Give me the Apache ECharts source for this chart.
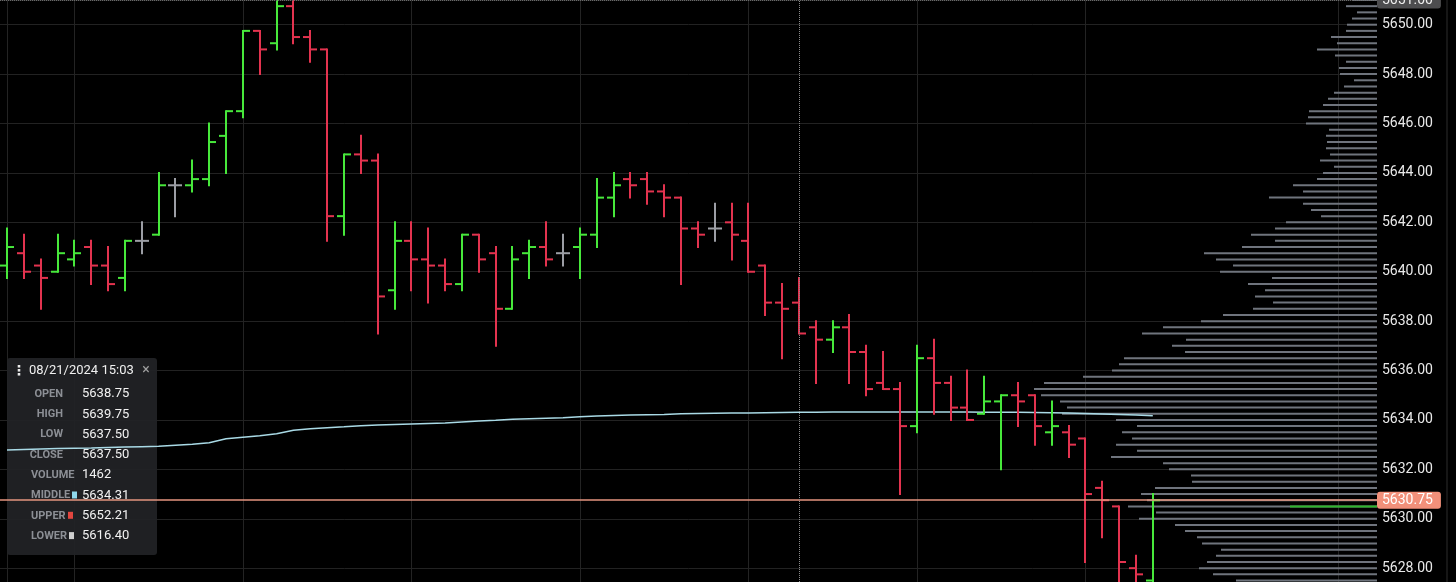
<!DOCTYPE html>
<html>
<head>
<meta charset="utf-8">
<title>OHLC 1m with volume profile</title>
<script src="https://cdn.jsdelivr.net/npm/echarts@6.0.0/dist/echarts.min.js"></script>
<style>
  html, body { margin: 0; padding: 0; background: #000; }
  #chart { width: 1456px; height: 582px; }
</style>
</head>
<body>
<div id="chart"></div>
<script>
// one-minute bars, 14:16 .. 15:24 (bar 47 = 15:03)
var opens = [
  5640.25, 5640.75, 5640.25, 5640.0, 5640.5, 5641.0, 5640.25, 5639.75, 5641.25, 5641.5,
  5643.5, 5643.5, 5643.75, 5645.5, 5646.5, 5649.75, 5649.25, 5650.75, 5649.5, 5649.0,
  5642.25, 5644.75, 5644.5, 5639.25, 5641.25, 5640.5, 5640.25, 5639.5, 5641.5, 5640.75,
  5638.5, 5640.75, 5641.0, 5640.75, 5641.0, 5641.5, 5643.0, 5643.75, 5643.75, 5643.25,
  5643.0, 5641.75, 5641.75, 5642.0, 5641.25, 5640.25, 5638.75, 5638.75, 5637.75, 5637.25,
  5637.75, 5636.75, 5635.5, 5635.25, 5633.75, 5636.5, 5635.5, 5634.5, 5634.25, 5634.75,
  5635.0, 5635.0, 5633.5, 5633.5, 5633.25, 5631.25, 5630.5, 5628.0, 5627.5
];
var highs = [
  5641.75, 5641.5, 5640.5, 5641.5, 5641.25, 5641.25, 5641.0, 5641.25, 5642.0, 5644.0,
  5643.75, 5644.5, 5646.0, 5646.5, 5649.75, 5649.75, 5651.0, 5651.0, 5649.75, 5649.0,
  5644.75, 5645.5, 5644.75, 5642.0, 5642.0, 5641.75, 5640.5, 5641.5, 5641.5, 5641.0,
  5641.0, 5641.25, 5642.0, 5641.5, 5641.75, 5643.75, 5644.0, 5644.0, 5644.0, 5643.5,
  5643.0, 5642.0, 5642.75, 5642.75, 5642.75, 5640.25, 5639.5, 5639.75, 5638.0, 5638.0,
  5638.25, 5637.0, 5636.75, 5635.5, 5637.0, 5637.25, 5635.75, 5636.0, 5635.75, 5635.0,
  5635.5, 5635.0, 5634.75, 5633.75, 5633.25, 5631.5, 5630.5, 5628.5, 5631.0
];
var lows = [
  5639.75, 5639.75, 5638.5, 5640.0, 5640.25, 5639.5, 5639.25, 5639.25, 5640.75, 5641.5,
  5642.25, 5643.25, 5643.5, 5644.0, 5646.25, 5648.0, 5649.0, 5649.25, 5648.5, 5641.25,
  5641.5, 5644.0, 5637.5, 5638.5, 5639.25, 5638.75, 5639.25, 5639.25, 5640.0, 5637.0,
  5638.5, 5639.75, 5640.25, 5640.25, 5639.75, 5641.0, 5642.25, 5643.0, 5642.75, 5642.25,
  5639.5, 5641.0, 5641.25, 5640.5, 5640.0, 5638.25, 5636.5, 5637.5, 5635.5, 5636.75,
  5635.5, 5635.0, 5635.25, 5631.0, 5633.5, 5634.25, 5634.0, 5634.0, 5634.25, 5632.0,
  5633.75, 5633.0, 5633.0, 5632.5, 5628.25, 5629.25, 5627.25, 5627.25, 5627.25
];
var closes = [
  5641.0, 5640.0, 5639.75, 5640.75, 5640.75, 5640.25, 5639.5, 5641.25, 5641.25, 5643.5,
  5643.5, 5643.75, 5645.25, 5646.5, 5649.75, 5649.0, 5650.75, 5649.5, 5649.0, 5642.25,
  5644.75, 5644.5, 5639.0, 5641.25, 5640.5, 5640.25, 5639.5, 5641.5, 5640.5, 5638.5,
  5640.5, 5641.0, 5640.5, 5640.75, 5641.5, 5643.0, 5643.5, 5643.5, 5643.25, 5643.0,
  5641.75, 5641.5, 5641.75, 5641.5, 5640.0, 5638.75, 5638.5, 5637.5, 5637.25, 5637.75,
  5636.75, 5635.25, 5635.25, 5633.75, 5636.5, 5635.5, 5634.5, 5634.0, 5634.75, 5635.0,
  5634.75, 5633.75, 5633.75, 5633.0, 5631.0, 5630.75, 5628.25, 5627.75, 5630.75
];
// bollinger middle band
var middle = [
  5632.78, 5632.80, 5632.82, 5632.84, 5632.85, 5632.86, 5632.88, 5632.90, 5632.92, 5632.94,
  5632.98, 5633.02, 5633.08, 5633.24, 5633.30, 5633.36, 5633.44, 5633.58, 5633.64, 5633.68,
  5633.72, 5633.77, 5633.80, 5633.82, 5633.84, 5633.86, 5633.88, 5633.92, 5633.96, 5633.99,
  5634.03, 5634.05, 5634.07, 5634.09, 5634.13, 5634.16, 5634.18, 5634.20, 5634.21, 5634.22,
  5634.25, 5634.26, 5634.27, 5634.28, 5634.28, 5634.29, 5634.30, 5634.31, 5634.31, 5634.32,
  5634.32, 5634.32, 5634.32, 5634.32, 5634.32, 5634.32, 5634.32, 5634.32, 5634.31, 5634.31,
  5634.31, 5634.30, 5634.29, 5634.28, 5634.26, 5634.24, 5634.22, 5634.20, 5634.17
];
// volume profile (relative volume per price level)
var profilePrices = [
  5651.0, 5650.75, 5650.5, 5650.25, 5650.0, 5649.75, 5649.5, 5649.25, 5649.0, 5648.75,
  5648.5, 5648.25, 5648.0, 5647.75, 5647.5, 5647.25, 5647.0, 5646.75, 5646.5, 5646.25,
  5646.0, 5645.75, 5645.5, 5645.25, 5645.0, 5644.75, 5644.5, 5644.25, 5644.0, 5643.75,
  5643.5, 5643.25, 5643.0, 5642.75, 5642.5, 5642.25, 5642.0, 5641.75, 5641.5, 5641.25,
  5641.0, 5640.75, 5640.5, 5640.25, 5640.0, 5639.75, 5639.5, 5639.25, 5639.0, 5638.75,
  5638.5, 5638.25, 5638.0, 5637.75, 5637.5, 5637.25, 5637.0, 5636.75, 5636.5, 5636.25,
  5636.0, 5635.75, 5635.5, 5635.25, 5635.0, 5634.75, 5634.5, 5634.25, 5634.0, 5633.75,
  5633.5, 5633.25, 5633.0, 5632.75, 5632.5, 5632.25, 5632.0, 5631.75, 5631.5, 5631.25,
  5631.0, 5630.75, 5630.5, 5630.25, 5630.0, 5629.75, 5629.5, 5629.25, 5629.0, 5628.75,
  5628.5, 5628.25, 5628.0, 5627.75, 5627.5
];
var profileVolumes = [
  25, 31, 20, 25, 30, 31, 46, 40, 60, 42,
  31, 38, 37, 23, 33, 43, 49, 54, 68, 69,
  71, 48, 51, 50, 51, 47, 57, 43, 54, 60,
  84, 74, 108, 74, 66, 56, 91, 102, 126, 102,
  135, 173, 161, 144, 157, 105, 129, 112, 122, 104,
  124, 154, 176, 214, 235, 191, 205, 192, 253, 258,
  265, 294, 333, 343, 336, 317, 310, 315, 261, 240,
  255, 245, 261, 240, 266, 214, 208, 186, 185, 222,
  236, 230, 249, 221, 238, 202, 192, 180, 175, 156,
  161, 170, 178, 164, 141
];
var profileBuyPrice = 5630.5;
var profileBuyVolume = 87;
var lastPrice = 5630.75;
var crossPrice = 5651.0;
var crossBar = 47;
var timeGridBars = [0, 4, 14, 24, 34, 44, 54, 64, 79];
var priceMin = 5627.44, priceMax = 5651.0;

var UP = '#47e83b', DOWN = '#e3334f', FLAT = '#9c9ea5';

var ohlcData = opens.map(function (o, i) { return [i, o, highs[i], lows[i], closes[i]]; });
var middleData = middle.map(function (v, i) { return [i, v]; });
var profileData = profilePrices.map(function (p, i) { return [profileVolumes[i], p]; });

function renderBar(params, api) {
  var i = api.value(0);
  var o = api.value(1), h = api.value(2), l = api.value(3), c = api.value(4);
  var top = api.coord([i, h]), bot = api.coord([i, l]);
  var po = api.coord([i, o]), pc = api.coord([i, c]);
  var x = Math.round(top[0]);
  var color = c > o ? UP : (c < o ? DOWN : FLAT);
  var st = { stroke: color, lineWidth: 2 };
  return {
    type: 'group',
    children: [
      { type: 'line', shape: { x1: x, y1: top[1] - 1, x2: x, y2: bot[1] + 1 }, style: st },
      { type: 'line', shape: { x1: x - 7, y1: po[1], x2: x, y2: po[1] }, style: st },
      { type: 'line', shape: { x1: x, y1: pc[1], x2: x + 7, y2: pc[1] }, style: st }
    ]
  };
}

function profileRenderer(color) {
  return function (params, api) {
    var p = api.value(1);
    var a = api.coord([0, p]), b = api.coord([api.value(0), p]);
    return { type: 'line', shape: { x1: a[0], y1: a[1], x2: b[0], y2: b[1] }, style: { stroke: color, lineWidth: 2 } };
  };
}

// data window box (left)
var rows = [
  ['OPEN', '5638.75', 'right', null],
  ['HIGH', '5639.75', 'right', null],
  ['LOW', '5637.50', 'right', null],
  ['CLOSE', '5637.50', 'right', null],
  ['VOLUME', '1462', 'left', null],
  ['MIDDLE', '5634.31', 'left', '#8fd8ec'],
  ['UPPER', '5652.21', 'left', '#e2463f'],
  ['LOWER', '5616.40', 'left', '#cfcfcf']
];
var boxEls = [
  { type: 'rect', left: 7, top: 358, shape: { width: 150, height: 197, r: 3 }, style: { fill: 'rgba(33,34,38,0.93)' }, z: 1 },
  { type: 'text', x: 19, y: 371, style: { text: '⋮', fill: '#e8e8e8', font: 'bold 14px "DejaVu Sans"', textAlign: 'center', textVerticalAlign: 'middle', align: 'center', verticalAlign: 'middle' }, z: 20 },
  { type: 'text', x: 29, y: 371, style: { text: '08/21/2024 15:03', fill: '#f0f0f0', font: '13px Roboto', textVerticalAlign: 'middle', verticalAlign: 'middle' }, z: 20 },
  { type: 'text', x: 146, y: 370, style: { text: '×', fill: '#a0a0a0', font: '14px Roboto', textAlign: 'center', textVerticalAlign: 'middle', align: 'center', verticalAlign: 'middle' }, z: 20 }
];
rows.forEach(function (r, k) {
  var y = 394 + k * 20.3;
  boxEls.push({ type: 'text', x: r[2] === 'right' ? 63 : 31, y: y, style: { text: r[0], fill: '#8c8f95', font: 'bold 11px Roboto', textAlign: r[2], textVerticalAlign: 'middle', align: r[2], verticalAlign: 'middle' }, z: 20 });
  boxEls.push({ type: 'text', x: 82, y: y, style: { text: r[1], fill: '#f2f2f2', font: '13px Roboto', textVerticalAlign: 'middle', verticalAlign: 'middle' }, z: 20 });
  if (r[3]) {
    var sx = r[0] === 'MIDDLE' ? 72 : (r[0] === 'UPPER' ? 68 : 69);
    boxEls.push({ type: 'rect', left: sx, top: y - 4, shape: { width: 5, height: 7 }, style: { fill: r[3] }, z: 20 });
  }
});
boxEls.push({ type: 'line', shape: { x1: 1447, y1: 0, x2: 1447, y2: 582 }, style: { stroke: '#2c2c2c', lineWidth: 1 }, z: 0 });

var chart = echarts.init(document.getElementById('chart'));
chart.setOption({
  backgroundColor: '#000',
  animation: false,
  grid: { left: 0, right: 79, top: 0, bottom: 0, containLabel: false },
  xAxis: [
    { type: 'value', min: -0.4154, max: 81.306, show: false },
    { type: 'value', min: 0, max: 1377, inverse: true, show: false }
  ],
  yAxis: {
    type: 'value', position: 'right', min: priceMin, max: priceMax, splitNumber: 12,
    axisLine: { show: false }, axisTick: { show: false },
    splitLine: { show: true, lineStyle: { color: '#222', width: 1 } },
    axisLabel: { color: '#e9e9e9', fontSize: 14, fontFamily: 'Roboto', margin: 5, showMinLabel: false, showMaxLabel: false,
      formatter: function (v) { return v.toFixed(2); } }
  },
  graphic: boxEls,
  series: [
    {
      name: 'timegrid', type: 'line', data: [], z: 0, silent: true,
      markLine: { z: 0, silent: true, symbol: 'none', label: { show: false }, lineStyle: { color: '#232323', width: 1, type: 'solid' },
        data: timeGridBars.map(function (b) { return { xAxis: b }; }) }
    },
    {
      name: 'profile', type: 'custom', xAxisIndex: 1, yAxisIndex: 0, z: 1,
      renderItem: profileRenderer('#6f747d'), encode: { x: 0, y: 1 }, data: profileData
    },
    {
      name: 'profileBuy', type: 'custom', xAxisIndex: 1, yAxisIndex: 0, z: 1,
      renderItem: profileRenderer('#2fb52c'), encode: { x: 0, y: 1 }, data: [[profileBuyVolume, profileBuyPrice]]
    },
    {
      name: 'middle', type: 'line', data: middleData, z: 3, showSymbol: false, symbol: 'none',
      lineStyle: { color: '#a9dae6', width: 1.5 }
    },
    {
      name: 'ohlc', type: 'custom', z: 4, renderItem: renderBar,
      encode: { x: 0, y: [1, 2, 3, 4] }, data: ohlcData
    },
    {
      name: 'markers', type: 'line', data: [], z: 6, silent: true,
      markLine: {
        z: 6, silent: true, symbol: 'none',
        data: [
          { yAxis: lastPrice, lineStyle: { color: '#e4957f', width: 1.5, type: 'solid' },
            label: { show: true, position: 'end', distance: 0, formatter: lastPrice.toFixed(2), color: '#fff', fontSize: 14, fontFamily: 'Roboto',
              backgroundColor: '#f2907a', borderRadius: 3, padding: [2, 8, 1, 5] } },
          { yAxis: crossPrice, lineStyle: { color: '#6a6a6a', width: 1, type: 'dotted' },
            label: { show: true, position: 'end', distance: 0, formatter: crossPrice.toFixed(2), color: '#eee', fontSize: 14, fontFamily: 'Roboto',
              backgroundColor: '#4d4d4f', borderRadius: 3, padding: [2, 8, 1, 5] } },
          { xAxis: crossBar, lineStyle: { color: '#8a8a8a', width: 1, type: 'dotted' }, label: { show: false } }
        ]
      }
    }
  ]
});
</script>
</body>
</html>
